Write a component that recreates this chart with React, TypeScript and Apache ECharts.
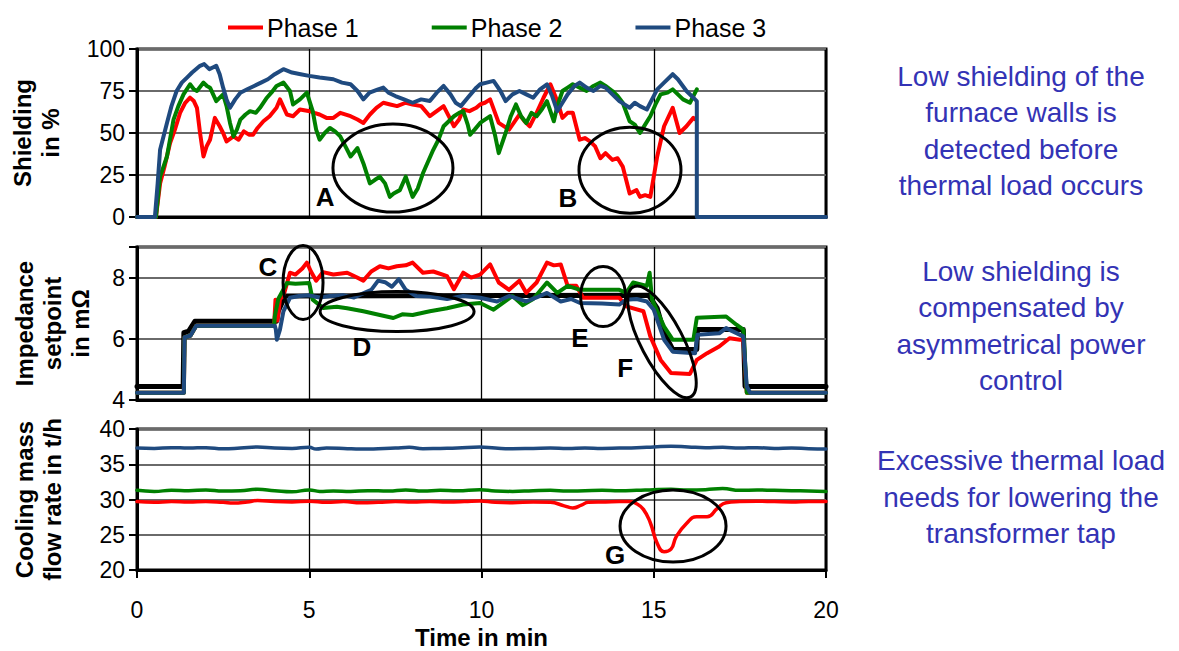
import React, { useEffect, useRef } from "react";
import * as echarts from "echarts";

// ---------- DATA ----------
const X_TICKS = [0, 5, 10, 15, 20];
const LEGEND = ["Phase 1", "Phase 2", "Phase 3"];

// Panel 1: Shielding in %  ([time in min, value])
const SHIELD_P1 = [[0,0],[0.55,0],[0.67,20],[0.8,30],[0.96,44],[1.1,52],[1.25,62],[1.4,68],[1.54,71],[1.65,69],[1.74,65],[1.83,50],[1.93,36],[2.02,42],[2.12,46],[2.26,59],[2.4,54],[2.5,50],[2.6,45],[2.8,48],[2.95,46],[3.1,51],[3.25,49],[3.37,49],[3.5,53],[3.67,57],[3.85,60],[4.05,65],[4.15,70],[4.35,61],[4.53,60],[4.73,64],[5.02,63],[5.15,62],[5.3,61],[5.5,59],[5.7,59],[5.9,62],[6.2,60],[6.4,58],[6.57,56],[6.76,61],[6.95,65],[7.15,68],[7.35,67],[7.55,66],[7.8,68],[8.0,67],[8.25,66],[8.5,60],[8.7,63],[8.9,66],[9.05,60],[9.2,54],[9.35,58],[9.47,64],[9.65,63],[9.85,65],[9.96,67],[10.1,68],[10.25,70],[10.5,56],[10.8,52],[11.1,61],[11.25,57],[11.4,54],[11.6,62],[11.8,71],[12.0,79],[12.2,69],[12.35,59],[12.5,62],[12.65,62],[12.85,46],[13.0,47],[13.15,45],[13.3,42],[13.45,35],[13.6,38],[13.8,34],[13.95,35],[14.1,30],[14.3,14],[14.5,16],[14.6,12],[14.75,13],[14.9,12],[15.1,36],[15.3,54],[15.55,65],[15.75,50],[15.95,54],[16.15,59],[16.22,58]];
const SHIELD_P2 = [[0,0],[0.55,0],[0.67,24],[0.87,36],[1.06,58],[1.2,66],[1.35,73],[1.54,79],[1.65,76],[1.74,75],[1.93,80],[2.03,78],[2.12,77],[2.3,69],[2.5,73],[2.6,66],[2.7,56],[2.8,48],[2.9,52],[3.0,58],[3.15,61],[3.28,63],[3.45,62],[3.57,65],[3.77,71],[3.9,74],[4.05,78],[4.25,80],[4.44,75],[4.53,67],[4.73,70],[4.93,74],[5.1,63],[5.2,52],[5.3,46],[5.45,50],[5.6,53],[5.75,51],[5.9,48],[6.05,42],[6.2,36],[6.4,41],[6.57,32],[6.76,20],[6.9,22],[7.05,24],[7.2,20],[7.34,12],[7.45,14],[7.63,16],[7.8,24],[7.9,18],[8.0,12],[8.15,17],[8.3,26],[8.45,33],[8.6,40],[8.75,46],[8.9,54],[9.05,57],[9.2,60],[9.35,62],[9.47,63],[9.6,55],[9.67,49],[9.8,52],[9.96,56],[10.1,58],[10.25,60],[10.4,48],[10.5,38],[10.7,50],[10.85,60],[11.0,67],[11.15,60],[11.3,56],[11.45,62],[11.6,60],[11.75,64],[11.9,69],[12.1,57],[12.2,66],[12.35,75],[12.5,77],[12.65,79],[12.85,77],[13.05,75],[13.25,78],[13.45,80],[13.6,78],[13.8,75],[13.95,72],[14.1,68],[14.3,57],[14.45,55],[14.6,50],[14.75,55],[14.9,60],[15.05,67],[15.2,73],[15.4,74],[15.55,76],[15.7,73],[15.85,70],[16.05,68],[16.15,72],[16.25,76]];
const SHIELD_P3 = [[0,0],[0.52,0],[0.6,20],[0.67,40],[0.87,56],[1.0,66],[1.15,75],[1.3,80],[1.45,83],[1.6,86],[1.83,90],[1.95,91],[2.1,88],[2.2,89],[2.3,90],[2.4,85],[2.5,77],[2.6,70],[2.7,65],[2.85,70],[3.0,74],[3.2,76],[3.4,78],[3.6,80],[3.8,82],[4.0,85],[4.25,88],[4.5,86],[4.75,85],[5.0,84],[5.3,83],[5.7,82],[5.95,80],[6.2,79],[6.4,75],[6.57,70],[6.75,74],[7.0,76],[7.15,77],[7.3,74],[7.5,72],[7.75,70],[8.0,68],[8.25,70],[8.5,69],[8.7,74],[8.9,78],[9.1,73],[9.25,68],[9.4,66],[9.6,71],[9.85,77],[9.96,79],[10.15,80],[10.35,81],[10.55,75],[10.7,69],[10.9,73],[11.1,75],[11.3,73],[11.5,71],[11.7,76],[11.9,79],[12.05,72],[12.2,63],[12.35,68],[12.5,73],[12.7,78],[12.85,80],[13.05,77],[13.25,75],[13.45,78],[13.6,77],[13.8,73],[14.0,69],[14.15,67],[14.3,65],[14.45,68],[14.6,66],[14.8,64],[14.95,70],[15.1,76],[15.3,80],[15.55,85],[15.7,82],[15.95,75],[16.1,72],[16.25,69],[16.25,0],[20,0]];

// Panel 2: Impedance setpoint in mΩ
const IMP_REF = [[0,4.44],[1.34,4.44],[1.36,6.2],[1.5,6.25],[1.68,6.57],[4.05,6.57],[4.1,6.9],[4.3,7.4],[14.85,7.42],[15.1,7.0],[15.3,6.2],[15.55,5.65],[16.25,5.65],[16.27,6.3],[17.6,6.3],[17.65,4.44],[20,4.44]];
const IMP_P1 = [[0,4.24],[1.36,4.24],[1.38,6.05],[1.55,6.1],[1.72,6.43],[3.98,6.43],[4.02,7.28],[4.08,6.6],[4.15,7.3],[4.25,7.4],[4.44,8.16],[4.6,8.1],[4.8,8.3],[4.93,8.49],[5.05,8.2],[5.2,7.9],[5.4,8.18],[5.7,8.1],[6.1,8.16],[6.3,8.05],[6.57,7.9],[6.8,8.2],[7.05,8.37],[7.3,8.3],[7.54,8.37],[7.8,8.4],[8.0,8.49],[8.3,8.16],[8.6,8.2],[9.0,8.05],[9.2,7.62],[9.47,8.16],[9.7,8.0],[9.96,8.1],[10.25,8.43],[10.5,7.84],[10.8,7.6],[11.1,7.9],[11.3,7.5],[11.6,7.84],[11.9,8.49],[12.1,8.4],[12.3,8.43],[12.5,7.73],[12.75,7.73],[12.95,7.34],[14.0,7.34],[14.2,7.06],[14.7,6.9],[14.9,6.08],[15.2,5.31],[15.5,4.88],[16.05,4.85],[16.25,5.31],[16.55,5.53],[16.9,5.75],[17.2,6.02],[17.5,5.97],[17.6,5.97],[17.7,4.24],[20,4.24]];
const IMP_P2 = [[0,4.24],[1.36,4.24],[1.38,6.05],[1.55,6.1],[1.72,6.43],[3.98,6.43],[4.0,6.73],[4.1,7.3],[4.35,7.82],[4.6,7.8],[5.0,7.82],[5.1,7.28],[5.4,7.01],[5.8,7.05],[6.1,7.0],[6.57,6.9],[7.05,6.78],[7.44,6.68],[7.7,6.8],[8.0,6.78],[8.5,6.9],[9.0,7.0],[9.47,7.12],[9.96,7.17],[10.35,6.95],[10.9,7.4],[11.2,7.1],[11.5,7.3],[11.9,7.84],[12.2,7.5],[12.5,7.73],[12.86,7.6],[14.0,7.6],[14.2,7.5],[14.4,7.84],[14.8,7.73],[14.88,8.16],[14.95,7.28],[15.3,6.4],[15.55,5.97],[16.15,5.97],[16.25,6.69],[17.1,6.73],[17.4,6.46],[17.6,6.3],[17.7,4.24],[20,4.24]];
const IMP_P3 = [[0,4.24],[1.36,4.24],[1.38,6.05],[1.55,6.1],[1.72,6.43],[4.0,6.43],[4.03,6.3],[4.06,5.97],[4.15,6.3],[4.25,6.9],[4.44,7.34],[4.7,7.4],[5.0,7.42],[5.3,7.35],[5.6,7.4],[6.0,7.42],[6.3,7.35],[6.6,7.5],[6.8,7.6],[7.0,7.9],[7.2,7.85],[7.4,7.7],[7.6,7.95],[7.8,7.6],[8.1,7.4],[8.5,7.38],[9.0,7.3],[9.47,7.4],[9.96,7.34],[10.45,7.22],[10.8,7.4],[11.3,7.22],[11.6,7.35],[11.9,7.5],[12.3,7.22],[12.6,7.3],[12.86,7.17],[13.5,7.15],[14.0,7.12],[14.2,7.28],[14.5,7.3],[14.8,7.22],[15.0,6.95],[15.3,5.97],[15.55,5.58],[16.2,5.53],[16.27,6.13],[16.9,6.18],[17.1,6.35],[17.6,6.08],[17.7,4.44],[17.8,4.24],[20,4.24]];

// Panel 3: Cooling mass flow rate in t/h
const COOL_P1 = [[0,29.7],[0.5,29.6],[1,29.7],[1.5,29.65],[2,29.7],[2.5,29.6],[2.8,29.5],[3.2,29.65],[3.5,29.85],[4,29.7],[4.5,29.65],[5,29.75],[5.5,29.6],[6,29.7],[6.5,29.55],[7,29.6],[7.5,29.7],[8,29.65],[8.5,29.7],[9,29.65],[9.5,29.7],[9.95,29.8],[10.4,29.6],[10.9,29.55],[11.5,29.65],[12.0,29.6],[12.4,29.1],[12.65,28.8],[12.9,29.2],[13.1,29.6],[13.6,29.65],[14.0,29.7],[14.3,29.7],[14.5,29.4],[14.7,28.6],[14.9,26.7],[15.1,23.8],[15.3,22.6],[15.5,22.95],[15.65,24.7],[15.95,26.6],[16.25,27.56],[16.55,27.56],[16.85,28.75],[17.1,29.55],[17.5,29.7],[18,29.75],[18.5,29.7],[19,29.65],[19.5,29.7],[20,29.7]];
const COOL_P2 = [[0,31.3],[0.5,31.15],[1,31.3],[1.5,31.25],[2,31.35],[2.5,31.2],[3,31.25],[3.5,31.45],[4,31.25],[4.5,31.1],[5,31.35],[5.3,31.15],[5.7,31.2],[6.2,31.15],[6.7,31.25],[7.3,31.2],[7.8,31.35],[8.3,31.2],[8.8,31.3],[9.3,31.25],[9.95,31.4],[10.4,31.2],[10.9,31.15],[11.5,31.25],[12,31.3],[12.5,31.2],[13,31.25],[13.5,31.3],[14,31.25],[14.5,31.3],[15,31.4],[15.5,31.45],[16,31.35],[16.5,31.4],[17,31.55],[17.5,31.3],[18,31.35],[18.5,31.3],[19,31.25],[19.5,31.2],[20,31.15]];
const COOL_P3 = [[0,37.3],[0.5,37.25],[1,37.35],[1.5,37.3],[2,37.35],[2.5,37.2],[3,37.3],[3.5,37.45],[4,37.3],[4.5,37.25],[5,37.4],[5.2,37.15],[5.5,37.3],[6,37.25],[6.5,37.15],[7,37.2],[7.5,37.3],[7.9,37.4],[8.3,37.2],[8.8,37.25],[9.3,37.3],[9.95,37.45],[10.4,37.3],[10.9,37.2],[11.5,37.25],[12,37.3],[12.5,37.25],[13,37.3],[13.5,37.25],[14,37.3],[14.5,37.35],[15,37.45],[15.5,37.55],[16,37.45],[16.5,37.35],[17,37.4],[17.5,37.3],[18,37.35],[18.5,37.25],[19,37.3],[19.5,37.2],[20,37.15]];

// Annotations: [label, panel, t, value]
const LETTERS = [["A",0,5.46,11.9],["B",0,12.51,11.3],["C",1,3.8,8.36],["D",1,6.53,5.74],["E",1,12.86,6.03],["F",1,14.17,5.05],["G",2,13.88,22.13]];
// Ellipses: [panel, t, value, rx px, ry px, rotation rad]
const ELLIPSES = [[0,7.43,29.1,60,44,0],[0,14.31,27.9,51,43,0],[1,4.82,7.84,20,37,0],[1,7.55,6.89,77,20,0],[1,13.53,7.38,22.5,30,0],[1,15.24,5.9,21,62,0.48],[2,15.56,26.24,53,36,0]];

const NOTES = [
  "Low shielding of the\nfurnace walls is\ndetected before\nthermal load occurs",
  "Low shielding is\ncompensated by\nasymmetrical power\ncontrol",
  "Excessive thermal load\nneeds for lowering the\ntransformer tap",
];

const RED = "#FF0000";
const GREEN = "#008000";
const BLUE = "#1F4A7F";
const FONT = "'Liberation Sans', Arial, sans-serif";

export default function App() {
  const ref = useRef<HTMLDivElement>(null);
  useEffect(() => {
    if (!ref.current) return;
    const chart = echarts.init(ref.current, undefined, { renderer: "svg" });
    const grids = [
      { left: 137, top: 49, width: 689, height: 168 },
      { left: 137, top: 247, width: 689, height: 153 },
      { left: 137, top: 429, width: 689, height: 141 },
    ].map((g) => ({ ...g, show: true, borderColor: "#000", borderWidth: 3, backgroundColor: "transparent", outerBoundsMode: "none", containLabel: false }));

    const xAxisBase = (i: number) => ({
      type: "value",
      gridIndex: i,
      min: 0,
      max: 20,
      interval: 5,
      axisLine: { show: true, onZero: false, lineStyle: { color: "#000", width: 3 } },
      axisTick: i === 2 ? { show: true, inside: false, length: 8, lineStyle: { color: "#000", width: 2 } } : { show: false },
      axisLabel: i === 2 ? { show: true, margin: 28, fontSize: 23, color: "#000", fontFamily: FONT, formatter: (v: number) => (X_TICKS.includes(v) ? String(v) : "") } : { show: false },
      splitLine: { show: true, lineStyle: { color: "#000", width: 1.3 } },
      name: i === 2 ? "Time in min" : "",
      nameLocation: "middle",
      nameGap: 55,
      nameTextStyle: { fontSize: 24, fontWeight: "bold", color: "#000", fontFamily: FONT },
    });
    const yAxisBase = (i: number, min: number, max: number, interval: number, name: string, gap: number) => ({
      type: "value",
      gridIndex: i,
      min,
      max,
      interval,
      axisLine: { show: true, lineStyle: { color: "#000", width: 3 } },
      axisTick: { show: true, inside: false, length: 8, lineStyle: { color: "#000", width: 2 } },
      axisLabel: { margin: 12, fontSize: 23, color: "#000", fontFamily: FONT, formatter: (v: number) => (v === 9 ? "" : String(v)) },
      splitLine: { show: true, lineStyle: { color: "#6a6a6a", width: 2 } },
      name,
      nameLocation: "middle",
      nameRotate: 90,
      nameGap: gap,
      nameTextStyle: { fontSize: 24, fontWeight: "bold", color: "#000", fontFamily: FONT, lineHeight: 28 },
    });

    const line = (name: string, data: number[][], color: string, idx: number, width: number, z: number, smooth = false) => ({
      type: "line",
      name,
      data,
      xAxisIndex: idx,
      yAxisIndex: idx,
      showSymbol: false,
      symbol: "none",
      smooth,
      z,
      lineStyle: { color, width, join: "round", cap: "round" },
      itemStyle: { color },
      emphasis: { disabled: true },
    });

    chart.setOption({
      animation: false,
      backgroundColor: "#fff",
      textStyle: { fontFamily: FONT },
      grid: grids,
      legend: {
        data: LEGEND,
        left: 223,
        top: 10,
        icon: "rect",
        itemWidth: 35,
        itemHeight: 4,
        itemGap: 73,
        textStyle: { fontSize: 25, color: "#000", fontFamily: FONT, padding: [0, 0, 0, -1] },
        selectedMode: false,
      },
      xAxis: [xAxisBase(0), xAxisBase(1), xAxisBase(2)],
      yAxis: [
        yAxisBase(0, 0, 100, 25, "Shielding\nin %", 73),
        yAxisBase(1, 4, 9, 2, "Impedance\nsetpoint\nin mΩ", 43),
        yAxisBase(2, 20, 40, 5, "Cooling mass\nflow rate in t/h", 71),
      ],
      series: [
        line("Phase 1", SHIELD_P1, RED, 0, 4, 2),
        line("Phase 2", SHIELD_P2, GREEN, 0, 4, 3),
        line("Phase 3", SHIELD_P3, BLUE, 0, 4, 4),
        line("Setpoint", IMP_REF, "#000", 1, 5, 1),
        line("Phase 1", IMP_P1, RED, 1, 4, 2),
        line("Phase 2", IMP_P2, GREEN, 1, 4, 3),
        line("Phase 3", IMP_P3, BLUE, 1, 4, 4),
        line("Phase 1", COOL_P1, RED, 2, 3.5, 2, true),
        line("Phase 2", COOL_P2, GREEN, 2, 3.5, 3, true),
        line("Phase 3", COOL_P3, BLUE, 2, 3.5, 4, true),
      ],
    });

    const px = (g: number, t: number, v: number) => chart.convertToPixel({ gridIndex: g } as any, [t, v]) as number[];
    const graphics: any[] = [];
    ELLIPSES.forEach(([g, t, v, rx, ry, rot]) => {
      const [x, y] = px(g, t, v);
      graphics.push({ type: "ellipse", x, y, rotation: rot, z: 100, shape: { cx: 0, cy: 0, rx, ry }, style: { fill: "none", stroke: "#000", lineWidth: 3 } });
    });
    LETTERS.forEach(([s, g, t, v]) => {
      const [x, y] = px(g as number, t as number, v as number);
      graphics.push({ type: "text", x, y, z: 100, style: { text: s, fontSize: 26, fontWeight: "bold", fontFamily: FONT, fill: "#000", textAlign: "center", textVerticalAlign: "middle" } });
    });
    const noteY = [131, 326, 497];
    NOTES.forEach((s, i) => {
      graphics.push({ type: "text", x: 1021, y: noteY[i], z: 100, style: { text: s, fontSize: 28, lineHeight: 36.5, fontFamily: FONT, fill: "#3333B5", textAlign: "center", textVerticalAlign: "middle" } });
    });
    chart.setOption({ graphic: graphics });

    return () => chart.dispose();
  }, []);
  return <div ref={ref} style={{ position: "absolute", left: 0, top: 0, width: 1179, height: 651 }} />;
}
